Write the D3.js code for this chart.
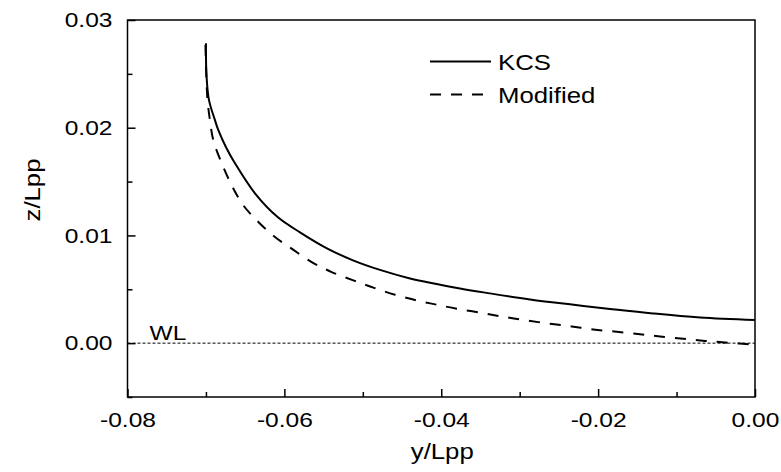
<!DOCTYPE html>
<html>
<head>
<meta charset="utf-8">
<script src="https://cdn.jsdelivr.net/npm/d3@7"></script>
<style>
  html, body { margin: 0; padding: 0; background: #fff; }
  svg { display: block; }
  text { font-family: "Liberation Sans", Arial, Helvetica, sans-serif; fill: #000; }
</style>
</head>
<body>
<svg id="chart" width="781" height="472"></svg>
<script>
// ---- data ----
const kcsY = [-0.07000, -0.06993, -0.06961, -0.06885, -0.06842, -0.06744, -0.06630, -0.06375, -0.06082, -0.05801, -0.05457, -0.05125, -0.04781, -0.04398, -0.03761, -0.03379, -0.02869, -0.02359, -0.01849, -0.01300, -0.00701, 0.00000];
const kcsZ = [0.02785, 0.02488, 0.02256, 0.02070, 0.01977, 0.01819, 0.01670, 0.01391, 0.01168, 0.01029, 0.00880, 0.00769, 0.00680, 0.00601, 0.00508, 0.00462, 0.00406, 0.00360, 0.00318, 0.00276, 0.00239, 0.00216];

const modY = [-0.07006, -0.06993, -0.06980, -0.06949, -0.06906, -0.06799, -0.06672, -0.06524, -0.06332, -0.06120, -0.05907, -0.05652, -0.05397, -0.05121, -0.04866, -0.04590, -0.04313, -0.04058, -0.03803, -0.03468, -0.03187, -0.02911, -0.02614, -0.02337, -0.02062, -0.01763, -0.01466, -0.01211, -0.00914, -0.00638, -0.00340, 0.00000];
const modZ = [0.02767, 0.02441, 0.02256, 0.02070, 0.01884, 0.01670, 0.01466, 0.01280, 0.01125, 0.00985, 0.00877, 0.00753, 0.00660, 0.00583, 0.00515, 0.00450, 0.00397, 0.00357, 0.00320, 0.00279, 0.00242, 0.00211, 0.00180, 0.00155, 0.00127, 0.00106, 0.00083, 0.00062, 0.00041, 0.00021, 0.00004, -0.00015];

const seriesNames = ["KCS", "Modified"];
const xTicks = [-0.08, -0.06, -0.04, -0.02, 0.00];
const xMinorTicks = [-0.07, -0.05, -0.03, -0.01];
const yTicks = [0.00, 0.01, 0.02, 0.03];
const yMinorTicks = [-0.005, 0.005, 0.015, 0.025];
const xDomain = [-0.08, 0.00];
const yDomain = [-0.005, 0.03];
const xTitle = "y/Lpp";
const yTitle = "z/Lpp";
const wlLabel = "WL";

// ---- layout ----
const svg = d3.select("#chart");
const W = 781, H = 472;
const m = { left: 127.5, right: 26, top: 20, bottom: 75 };
const pw = W - m.left - m.right, ph = H - m.top - m.bottom;
const SX = 1.17; // horizontal text stretch
const FS = 21;   // tick labels
const FS2 = 22;  // titles & legend

svg.append("rect").attr("width", W).attr("height", H).attr("fill", "#fff");

const x = d3.scaleLinear().domain(xDomain).range([m.left, m.left + pw]);
const y = d3.scaleLinear().domain(yDomain).range([m.top + ph, m.top]);

const fmt = d => (Math.abs(d) < 1e-12 ? 0 : d).toFixed(2);

// WL line
svg.append("line")
  .attr("x1", x(xDomain[0])).attr("x2", x(xDomain[1]))
  .attr("y1", y(0)).attr("y2", y(0))
  .attr("stroke", "#000").attr("stroke-width", 1)
  .attr("stroke-dasharray", "3,2");

svg.append("text")
  .attr("transform", `translate(${x(-0.0772)},${y(0) - 3.5}) scale(${SX},1)`)
  .attr("font-size", FS)
  .text(wlLabel);

// curves
const line = d3.line().x(d => x(d[0])).y(d => y(d[1])).curve(d3.curveCatmullRom.alpha(0.5));
const kcs = kcsY.map((v, i) => [v, kcsZ[i]]);
const mod = modY.map((v, i) => [v, modZ[i]]);

svg.append("path").datum(mod).attr("d", line)
  .attr("fill", "none").attr("stroke", "#000").attr("stroke-width", 2)
  .attr("stroke-dasharray", "11,10");
svg.append("path").datum(kcs).attr("d", line)
  .attr("fill", "none").attr("stroke", "#000").attr("stroke-width", 2);

// axes
const gx = svg.append("g").attr("transform", `translate(0,${m.top + ph})`)
  .call(d3.axisBottom(x).tickValues(xTicks).tickFormat(fmt).tickSizeInner(-8).tickSizeOuter(0).tickPadding(15));
const gxm = svg.append("g").attr("transform", `translate(0,${m.top + ph})`)
  .call(d3.axisBottom(x).tickValues(xMinorTicks).tickFormat("").tickSizeInner(-5).tickSizeOuter(0));
const gy = svg.append("g").attr("transform", `translate(${m.left},0)`)
  .call(d3.axisLeft(y).tickValues(yTicks).tickFormat(fmt).tickSizeInner(-8).tickSizeOuter(0).tickPadding(15));
const gym = svg.append("g").attr("transform", `translate(${m.left},0)`)
  .call(d3.axisLeft(y).tickValues(yMinorTicks).tickFormat("").tickSizeInner(-5).tickSizeOuter(0));

[gx, gxm, gy, gym].forEach(g => {
  g.select(".domain").remove();
  g.selectAll(".tick line").attr("stroke", "#000").attr("stroke-width", 1.5);
  g.selectAll("text").attr("font-size", FS).attr("font-family", "Liberation Sans, Arial, sans-serif").attr("fill", "#000");
});
gx.selectAll(".tick text").attr("transform", `scale(${SX},1)`);
gy.selectAll(".tick text").attr("x", -15 / SX).attr("transform", `scale(${SX},1)`);

// frame
svg.append("rect")
  .attr("x", m.left).attr("y", m.top).attr("width", pw).attr("height", ph)
  .attr("fill", "none").attr("stroke", "#000").attr("stroke-width", 1.5);

// axis titles
svg.append("text")
  .attr("transform", `translate(${m.left + pw / 2 + 1},${H - 13}) scale(${SX},1)`)
  .attr("text-anchor", "middle").attr("font-size", FS2).text(xTitle);
svg.append("text")
  .attr("transform", `translate(${40},${190}) rotate(-90) scale(${SX},1)`)
  .attr("text-anchor", "middle").attr("font-size", FS2).text(yTitle);

// legend
const lg = svg.append("g");
const legendRows = [
  { name: seriesNames[0], dash: null, yy: 61.5 },
  { name: seriesNames[1], dash: "11,10", yy: 94.5 }
];
legendRows.forEach(r => {
  lg.append("line").attr("x1", 430).attr("x2", 491).attr("y1", r.yy).attr("y2", r.yy)
    .attr("stroke", "#000").attr("stroke-width", 2)
    .attr("stroke-dasharray", r.dash);
  lg.append("text")
    .attr("transform", `translate(498,${r.yy + 8}) scale(${SX},1)`)
    .attr("font-size", FS2).text(r.name);
});
</script>
</body>
</html>
